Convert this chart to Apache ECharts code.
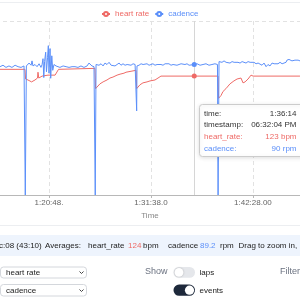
<!DOCTYPE html>
<html>
<head>
<meta charset="utf-8">
<script src="https://cdn.jsdelivr.net/npm/echarts@6/dist/echarts.min.js"></script>
<style>
html,body{margin:0;padding:0;background:#fff;}
#c{width:300px;height:300px;}
</style>
</head>
<body>
<div id="c"></div>
<script>
// ---- data (elapsed time in seconds) ----
const hrTime  = [4536,4695,4699,4714,4737,4759,4775,4778,4783,4804,4842,4887,4899,4909,4918,5141,5145,5173,5193,5218,5237,5256,5282,5301,5326,5339,5345,5403,5407,5428,5447,5473,5492,5524,5543,5562,5926,5929,5945,5957,5976,6002,6027,6047,6072,6085,6098,6117,6136,6149,6448];
const hrValue = [130,130,120,119,117,119,121,127,121,123,124,124,126,130,131,131,110,115,117,119,121,122,124,125,126,127,129,129,110,114,116,117,118,119,121,123,123,100,103,107,110,115,118,120,121,116,117,120,124,123,123];

const cadTime = [
 4536,4555,4574,4593,4612,4632,4651,4670,4689,4695,4697,4702,4704,4708,4721,4734,4740,4746,4759,4772,
 4785,4797,4804,4810,4815,4820,4827,4832,4839,4844,4848,4855,4859,4866,4872,4880,4893,4899,4918,4938,
 4957,4976,4995,5014,5033,5052,5071,5091,5103,5110,5122,5135,5142,5143,5147,5148,5154,5167,5180,5193,
 5205,5218,5231,5244,5256,5269,5282,5295,5307,5320,5333,5346,5358,5371,5384,5397,5406,5407,5409,5422,
 5435,5448,5460,5473,5486,5498,5511,5524,5537,5549,5562,5575,5588,5600,5613,5626,5639,5651,5664,5677,
 5690,5702,5715,5728,5741,5753,5774,5792,5811,5830,5849,5868,5887,5906,5922,5925,5926,5931,5932,5938,
 5951,5964,5977,5989,6002,6015,6028,6040,6053,6066,6079,6091,6104,6117,6130,6142,6155,6168,6181,6193,
 6206,6219,6232,6244,6257,6270,6283,6295,6308,6321,6334,6346,6359,6365,6378,6397,6416,6436,6448];
const cadValue = [
 88.5,89.5,88,89,88,89.5,88.5,88,89,88.5,0,0,89,90,91,89.5,92.5,89,90,88.5,
 90.5,88,90,94,81,92,98.5,85,95,103,84,101,80.5,96,86,90,89,88.5,88,89,
 88.5,88,88.5,88.5,88,89,88,89,91,91.5,89,88.5,88.5,0,0,90,91,89.5,90.5,89,
 91,90,91.5,89.5,90.5,89,90,91,89.5,90.5,89.5,90,91,89.5,90.5,90,90,58,89,89.5,
 90.5,90,89.5,90.5,89.5,90,90.5,89.5,90,90.5,90,89.5,90.5,90,90.5,89.5,90,90.5,89.5,90,
 90.5,89.5,90,90.5,89.5,90,90,90.5,89.5,90,90.5,89.5,90,90.5,90,90,0,0,92,92,
 91.5,92.5,91.5,92,91,92,91.5,92.5,91.5,91,92,91.5,91,92,91.5,91,91.5,90.5,91,90.5,
 89.5,91,88.5,90,89,91,90.5,91,90.5,91.5,90.5,91,91.5,93,93.5,92.5,93,93,92.5];

const seriesNames = ['heart rate', 'cadence'];
const tickValues = [4848, 5498, 6148];
const tickLabels = ['1:20:48.', '1:31:38.0', '1:42:28.00'];
const cursorTime = 5774;
const cursorHr = 123;
const cursorCad = 90;
const tipLabels = ['time:', 'timestamp:', 'heart_rate:', 'cadence:'];
const tipValues = ['1:36:14', '06:32:04 PM', '123 bpm', '90 rpm'];
const avgHr = '124';
const avgCad = '89.2';

const RED = '#ee6a66';
const BLUE = '#5b8ff9';
const FF = '"Liberation Sans", Arial, sans-serif';
const f = (s) => s + 'px ' + FF;

const chart = echarts.init(document.getElementById('c'), null, {renderer: 'canvas'});

function txt(x, y, text, fill, size, align) {
  return {type: 'text', x: x, y: y, z: 50,
    style: {text: text, fill: fill, font: f(size || 8), textAlign: align || 'left', textVerticalAlign: 'middle'}};
}

const tipY = [113.3, 124.7, 136.7, 148.7];
const tipColors = ['#333', '#333', RED, BLUE];
const tipEls = [{type: 'rect', z: 60, shape: {x: 199.5, y: 104.5, width: 110, height: 52, r: 3},
  style: {fill: '#fff', stroke: '#ccc', lineWidth: 1, shadowBlur: 4, shadowColor: 'rgba(0,0,0,0.12)', shadowOffsetY: 1}}];
tipLabels.forEach((l, i) => {
  tipEls.push(Object.assign(txt(204, tipY[i], l, tipColors[i], 8), {z: 61}));
  tipEls.push(Object.assign(txt(296.5, tipY[i], tipValues[i], tipColors[i], 8, 'right'), {z: 61}));
});

const footer = [
  {type: 'line', shape: {x1: 0, y1: 2.5, x2: 300, y2: 2.5}, style: {stroke: '#eceef1', lineWidth: 1}},
  {type: 'line', shape: {x1: 0, y1: 225.5, x2: 300, y2: 225.5}, style: {stroke: '#eceef1', lineWidth: 1}},
  {type: 'rect', shape: {x: 0, y: 235, width: 300, height: 21}, style: {fill: '#eef4fd'}},
  txt(-1, 246, 'c:08 (43:10)', '#222'),
  txt(45, 246, 'Averages:', '#222'),
  txt(88, 246, 'heart_rate', '#222'),
  txt(128, 246, avgHr, RED),
  txt(143, 246, 'bpm', '#222'),
  txt(168, 246, 'cadence', '#222'),
  txt(200, 246, avgCad, BLUE),
  txt(220, 246, 'rpm', '#222'),
  txt(238.5, 246, 'Drag to zoom in,', '#222'),
  {type: 'rect', shape: {x: 0.5, y: 267, width: 86, height: 11, r: 3}, style: {fill: '#fff', stroke: '#d4d7dc', lineWidth: 1}},
  txt(6, 272.5, 'heart rate', '#222'),
  {type: 'polyline', shape: {points: [[79.5, 271.5], [81.5, 273.5], [83.5, 271.5]]}, style: {stroke: '#444', lineWidth: 1, fill: null}},
  {type: 'rect', shape: {x: 0.5, y: 284.5, width: 86, height: 11.5, r: 3}, style: {fill: '#fff', stroke: '#d4d7dc', lineWidth: 1}},
  txt(6, 290.5, 'cadence', '#222'),
  {type: 'polyline', shape: {points: [[79.5, 289.5], [81.5, 291.5], [83.5, 289.5]]}, style: {stroke: '#444', lineWidth: 1, fill: null}},
  txt(145, 272, 'Show', '#6b7280', 9),
  {type: 'rect', shape: {x: 173.5, y: 267, width: 21.5, height: 10.8, r: 5.4}, style: {fill: '#e5e7eb'}},
  {type: 'circle', shape: {cx: 179, cy: 272.4, r: 4.4}, style: {fill: '#fff', shadowBlur: 2, shadowColor: 'rgba(0,0,0,0.25)'}},
  txt(199.5, 272.5, 'laps', '#222'),
  txt(280, 271.5, 'Filter', '#6b7280', 9),
  {type: 'rect', shape: {x: 173.5, y: 284.5, width: 21.5, height: 11.3, r: 5.6}, style: {fill: '#1e293b'}},
  {type: 'circle', shape: {cx: 189.5, cy: 290.2, r: 4.6}, style: {fill: '#fff'}},
  txt(199.5, 290.5, 'events', '#222')
];

const option = {
  animation: false,
  backgroundColor: '#fff',
  textStyle: {fontFamily: FF},
  legend: {
    data: [
      {name: seriesNames[0], textStyle: {color: RED}},
      {name: seriesNames[1], textStyle: {color: BLUE}}
    ],
    left: 96, top: 5,
    itemWidth: 8, itemHeight: 5, itemGap: 5,
    textStyle: {fontSize: 8, fontFamily: FF},
    selectedMode: false
  },
  grid: {left: -53, right: -53, top: 21, bottom: 105, containLabel: false, outerBoundsMode: 'none'},
  xAxis: {
    type: 'value', min: 4198, max: 6786, interval: 650,
    name: 'Time', nameLocation: 'middle', nameGap: 13,
    nameTextStyle: {color: '#888', fontSize: 8, fontFamily: FF},
    axisLine: {show: true, lineStyle: {color: '#b8b8b8', width: 1}},
    axisTick: {show: true, length: 3, lineStyle: {color: '#b8b8b8'}},
    axisLabel: {show: true, margin: 4, color: '#666', fontSize: 8, fontFamily: FF,
      formatter: function (v) { const i = tickValues.indexOf(v); return i >= 0 ? tickLabels[i] : ''; }},
    splitLine: {show: true, lineStyle: {color: '#e2e2e2', type: [4, 3], width: 1}}
  },
  yAxis: [
    {type: 'value', min: 0, max: 180, interval: 180,
      axisLine: {show: false}, axisTick: {show: false}, axisLabel: {show: false},
      splitLine: {show: true, lineStyle: {color: '#e2e2e2', type: [4, 3], width: 1}}},
    {type: 'value', min: 0, max: 120, interval: 120,
      axisLine: {show: false}, axisTick: {show: false}, axisLabel: {show: false},
      splitLine: {show: false}}
  ],
  series: [
    {
      name: seriesNames[0], type: 'line', yAxisIndex: 0,
      data: hrTime.map((t, i) => [t, hrValue[i]]),
      showSymbol: false, symbol: 'emptyCircle',
      lineStyle: {color: RED, width: 1}, itemStyle: {color: RED},
      markLine: {silent: true, symbol: ['none', 'none'], label: {show: false},
        lineStyle: {color: '#d6d6d6', type: 'solid', width: 1},
        data: [{xAxis: cursorTime}]},
      markPoint: {silent: true, symbol: 'circle', symbolSize: 5, label: {show: false},
        itemStyle: {color: RED}, data: [{coord: [cursorTime, cursorHr]}]}
    },
    {
      name: seriesNames[1], type: 'line', yAxisIndex: 1,
      data: cadTime.map((t, i) => [t, cadValue[i]]),
      showSymbol: false, symbol: 'emptyCircle',
      lineStyle: {color: BLUE, width: 1}, itemStyle: {color: BLUE},
      markPoint: {silent: true, symbol: 'circle', symbolSize: 5, label: {show: false},
        itemStyle: {color: BLUE}, data: [{coord: [cursorTime, cursorCad]}]}
    }
  ],
  graphic: footer.concat(tipEls)
};
chart.setOption(option);
</script>
</body>
</html>
